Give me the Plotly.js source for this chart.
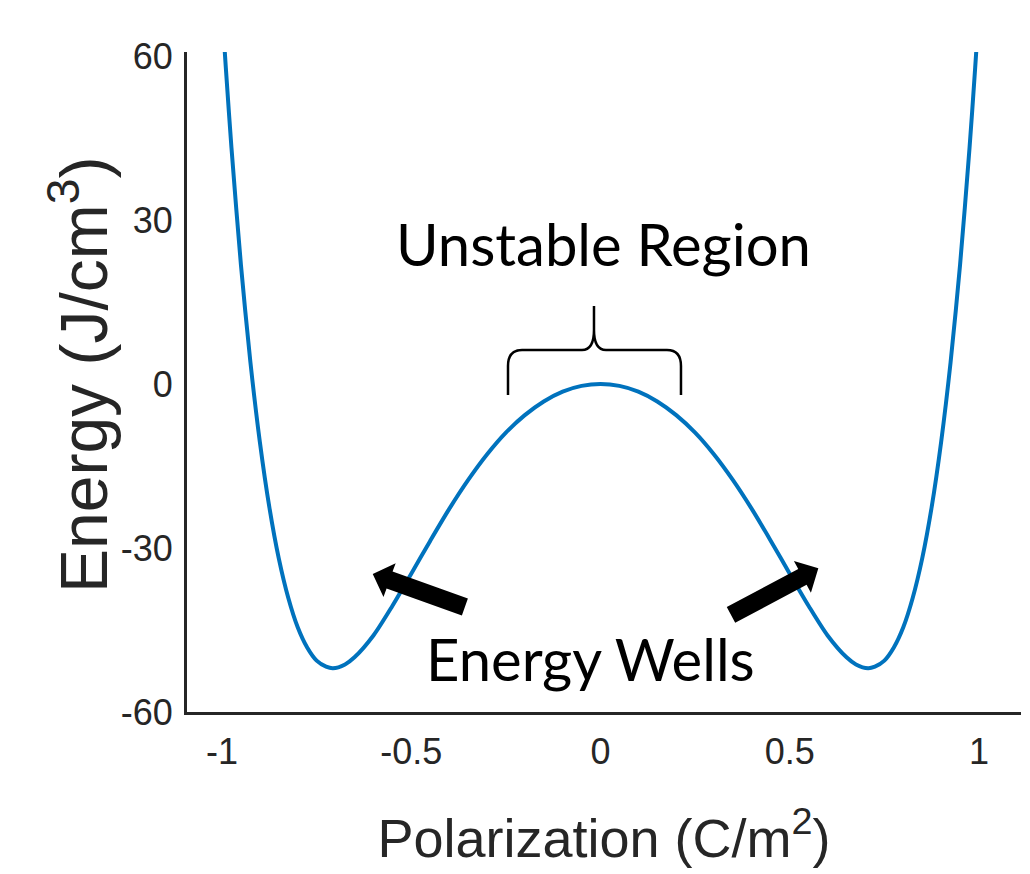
<!DOCTYPE html>
<html>
<head>
<meta charset="utf-8">
<script src="https://cdn.plot.ly/plotly-3.0.1.min.js"></script>
<style>
  html, body { margin: 0; padding: 0; background: #ffffff; }
  #chart { width: 1030px; height: 874px; }
</style>
</head>
<body>
<div id="chart"></div>
<script>
// Polarization (C/m^2) and free energy (J/cm^3)
const polarization = [
  -0.995, -0.99, -0.975, -0.95, -0.925, -0.9, -0.875, -0.85, -0.825, -0.8,
  -0.775, -0.75, -0.725, -0.707, -0.675, -0.65, -0.6, -0.55, -0.5, -0.45,
  -0.4, -0.35, -0.3, -0.25, -0.2, -0.15, -0.1, -0.05, 0,
  0.05, 0.1, 0.15, 0.2, 0.25, 0.3, 0.35, 0.4, 0.45, 0.5,
  0.55, 0.6, 0.65, 0.675, 0.707, 0.725, 0.75, 0.775, 0.8, 0.825,
  0.85, 0.875, 0.9, 0.925, 0.95, 0.975, 0.99, 0.995
];
const energy = [
  63.2, 57.9, 43.2, 21.8, 4.0, -10.6, -22.5, -31.9, -39.1, -44.5,
  -48.2, -50.6, -51.7, -52.0, -51.3, -50.0, -46.0, -40.6, -34.7, -28.7,
  -22.9, -17.6, -12.9, -8.9, -5.7, -3.2, -1.4, -0.35, 0,
  -0.35, -1.4, -3.2, -5.7, -8.9, -12.9, -17.6, -22.9, -28.7, -34.7,
  -40.6, -46.0, -50.0, -51.3, -52.0, -51.7, -50.6, -48.2, -44.5, -39.1,
  -31.9, -22.5, -10.6, 4.0, 21.8, 43.2, 57.9, 63.2
];
const xTickVals = [-1, -0.5, 0, 0.5, 1];
const xTickText = ["-1", "-0.5", "0", "0.5", "1"];
const yTickVals = [-60, -30, 0, 30, 60];
const yTickText = ["-60", "-30", "0", "30", "60"];
const xTitle = "Polarization (C/m<sup>2</sup>)";
const yTitle = "Energy (J/cm<sup>3</sup>)";

// plot area in pixels (for decoration placement)
const L = 187, R = 1021, T = 52, B = 712;
function px(x, y) { return ((x - L) / (R - L)).toFixed(4) + "," + ((B - y) / (B - T)).toFixed(4); }
function poly(pts) { return "M" + pts.map(p => px(p[0], p[1])).join("L") + "Z"; }

const leftArrow = poly([[372.7,574],[395.7,563.2],[392.6,571.6],[467.9,598.5],[461.9,615.5],[386.6,588.6],[383.5,597.0]]);
const rightArrow = poly([[818.3,568.3],[793.9,560.9],[798.2,568.9],[726.8,607.0],[735.2,622.8],[806.6,584.7],[810.9,592.7]]);
const brace =
  "M" + px(508,395) + "L" + px(508,366) + "Q" + px(508,350) + " " + px(522,350) +
  "L" + px(582,350) + "Q" + px(594,350) + " " + px(594,330) + "L" + px(594,306) +
  "M" + px(594,330) + "Q" + px(594,350) + " " + px(606,350) +
  "L" + px(667,350) + "Q" + px(681,350) + " " + px(681,366) + "L" + px(681,395);

const trace = {
  x: polarization, y: energy, type: "scatter", mode: "lines",
  line: { color: "#0072BD", width: 4, shape: "spline", smoothing: 0.8 },
  hoverinfo: "skip"
};

const FAM = "Liberation Sans, Arial, sans-serif";
const axisFont = { family: FAM, size: 36, color: "#262626" };
const layout = {
  width: 1030, height: 874,
  margin: { l: L, r: 1030 - R, t: T, b: 874 - B, pad: 0 },
  paper_bgcolor: "#ffffff", plot_bgcolor: "#ffffff",
  showlegend: false,
  xaxis: {
    range: [-1.0925, 1.111], showgrid: false, zeroline: false,
    showline: true, linecolor: "#262626", linewidth: 3,
    ticks: "", tickvals: xTickVals, ticktext: xTickText,
    tickfont: axisFont, ticklabelstandoff: 6,
    title: { text: xTitle, font: { family: FAM, size: 54, color: "#262626" }, standoff: 48 },
    automargin: false, fixedrange: true
  },
  yaxis: {
    range: [-60, 60.73], showgrid: false, zeroline: false,
    showline: true, linecolor: "#262626", linewidth: 3,
    ticks: "", tickvals: yTickVals, ticktext: yTickText,
    tickfont: axisFont, ticklabelstandoff: 4,
    automargin: false, fixedrange: true
  },
  shapes: [
    { type: "path", xref: "paper", yref: "paper", path: leftArrow, fillcolor: "#000000", line: { width: 0 } },
    { type: "path", xref: "paper", yref: "paper", path: rightArrow, fillcolor: "#000000", line: { width: 0 } },
    { type: "path", xref: "paper", yref: "paper", path: brace, line: { color: "#000000", width: 2.5 } }
  ],
  annotations: [
    { xref: "paper", yref: "paper", x: (79 - L) / (R - L), y: (B - 375) / (B - T),
      text: yTitle, showarrow: false, textangle: -90, xanchor: "center", yanchor: "middle",
      font: { family: FAM, size: 66, color: "#262626" } },
    { xref: "paper", yref: "paper", x: (603 - L) / (R - L), y: (B - 243) / (B - T),
      text: "Unstable Region", showarrow: false, xanchor: "center", yanchor: "middle",
      font: { family: "Lato, Open Sans, sans-serif", size: 58, color: "#000000" } },
    { xref: "paper", yref: "paper", x: (590 - L) / (R - L), y: (B - 658) / (B - T),
      text: "Energy Wells", showarrow: false, xanchor: "center", yanchor: "middle",
      font: { family: "Lato, Open Sans, sans-serif", size: 58, color: "#000000" } }
  ]
};

Plotly.newPlot("chart", [trace], layout, { staticPlot: true, displayModeBar: false });
</script>
</body>
</html>
